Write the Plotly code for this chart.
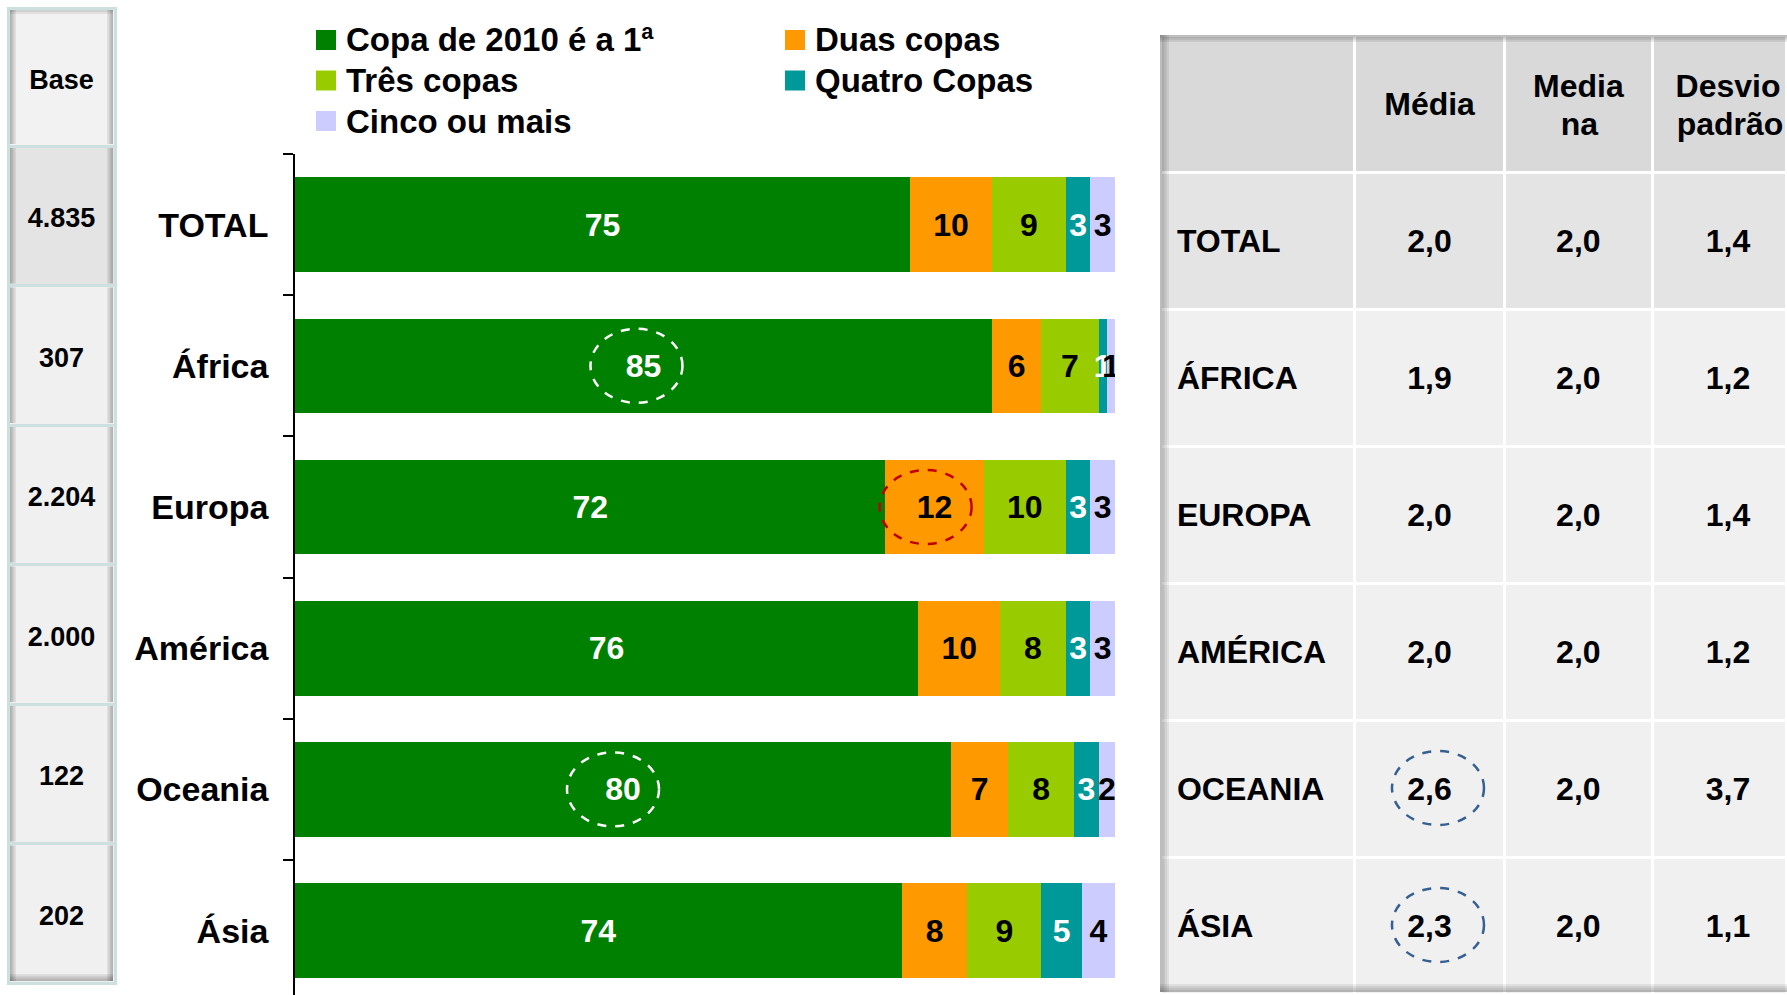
import plotly.graph_objects as go

# dados
regions = ["TOTAL", "África", "Europa", "América", "Oceania", "Ásia"]
series_names = ["Copa de 2010 é a 1ª", "Duas copas", "Três copas", "Quatro Copas", "Cinco ou mais"]
copa_2010 = [75, 85, 72, 76, 80, 74]
duas_copas = [10, 6, 12, 10, 7, 8]
tres_copas = [9, 7, 10, 8, 8, 9]
quatro_copas = [3, 1, 3, 3, 3, 5]
cinco_ou_mais = [3, 1, 3, 3, 2, 4]
series_values = [copa_2010, duas_copas, tres_copas, quatro_copas, cinco_ou_mais]

base_header = "Base"
bases = ["4.835", "307", "2.204", "2.000", "122", "202"]

table_rows = ["TOTAL", "ÁFRICA", "EUROPA", "AMÉRICA", "OCEANIA", "ÁSIA"]
table_header = ["", "Média", "Media<br>na", "Desvio<br>padrão"]
media = ["2,0", "1,9", "2,0", "2,0", "2,6", "2,3"]
media_na = ["2,0", "2,0", "2,0", "2,0", "2,0", "2,0"]
desvio = ["1,4", "1,2", "1,4", "1,2", "3,7", "1,1"]

colors = ["#008000", "#FF9900", "#99CC00", "#009999", "#CCCCFF"]
text_colors = ["white", "black", "black", "white", "black"]

W, H = 1787, 995
FONT = "Liberation Sans, Arial, sans-serif"


def px(x):
    return x / W


def py(y):
    return 1 - y / H


def nb(size, n=1):
    # espaços usados para centrar o texto na célula
    if n == 0:
        return ""
    return "<span style='font-size:%dpx'>%s</span>" % (size, "&nbsp;" * n)


def one_line(text, pad, left=False, extra=0):
    if not text:
        return ""
    lead = "&nbsp;" if left else nb(32, extra) + nb(pad)
    return lead + "<b>" + text + "</b>" + nb(pad) + "<br>"


def two_lines(text, size, pad, n2, extra=0):
    a, b = text.split("<br>")
    sp = "<span style='font-size:%dpx'><b>%s</b></span>"
    return (nb(32, extra) + nb(pad) + sp % (size, a) + nb(pad) + "<br>"
            + nb(32, extra + n2) + sp % (size, b))


fig = go.Figure()

for name, vals, color, tcolor in zip(series_names, series_values, colors, text_colors):
    fig.add_trace(go.Bar(
        y=regions, x=vals, name=name, orientation="h",
        marker=dict(color=color, line=dict(width=0)),
        text=vals, textposition="inside", insidetextanchor="middle", textangle=0,
        textfont=dict(family=FONT, size=32, color=tcolor, weight="bold"),
        showlegend=False, hoverinfo="skip",
    ))

# coluna Base
row_fill = ["#e4e4e4"] + ["#f0f0f0"] * 5
fig.add_trace(go.Table(
    domain=dict(x=[px(8), px(115)], y=[0, py(8)]),
    header=dict(values=[one_line(base_header, 81)], height=138, fill_color="#f2f2f2",
                line=dict(color="#cde0e0", width=3), align="center",
                font=dict(family=FONT, size=27, color="black")),
    cells=dict(values=[[one_line(b, 81) for b in bases]], height=139.5,
               fill_color=[row_fill], line=dict(color="#cde0e0", width=3), align="center",
               font=dict(family=FONT, size=27, color="black")),
))

# tabela de médias
cols = [table_rows, media, media_na, desvio]
head = [one_line(table_header[0], 80), one_line(table_header[1], 80),
        two_lines(table_header[2], 32, 60, 5), two_lines(table_header[3], 32, 60, 2, extra=2)]
cell_vals = [[one_line(v, 80, left=(j == 0), extra=(2 if j == 3 else 0)) for v in c]
             for j, c in enumerate(cols)]
fig.add_trace(go.Table(
    domain=dict(x=[px(1160), 1], y=[0, py(35)]),
    columnwidth=[195, 150, 148, 134],
    header=dict(values=head, height=137, fill_color="#d9d9d9",
                line=dict(color="white", width=3), align="center",
                font=dict(family=FONT, size=[32, 32, 28.9, 28.9], color="black")),
    cells=dict(values=cell_vals, height=137, fill_color=[row_fill] * 4,
               line=dict(color="white", width=3),
               align=["left", "center", "center", "center"],
               font=dict(family=FONT, size=32, color="black")),
))


# sombras das tabelas
def shade(x0, y0, x1, y1, side, depth=8, steps=4, alpha=0.07):
    for k in range(1, steps + 1):
        d = depth * k / steps
        if side == "left":
            box = (x0, y0, x0 + d, y1)
        elif side == "right":
            box = (x1 - d, y0, x1, y1)
        elif side == "top":
            box = (x0, y0, x1, y0 + d)
        else:
            box = (x0, y1 - d, x1, y1)
        fig.add_shape(type="rect", xref="paper", yref="paper", layer="above",
                      x0=px(box[0]), x1=px(box[2]), y0=py(box[1]), y1=py(box[3]),
                      fillcolor="black", opacity=alpha, line=dict(width=0))


base_edges = [8, 146] + [146 + 139.5 * (i + 1) for i in range(len(bases))]
for i in range(len(base_edges) - 1):
    y0, y1 = base_edges[i] + 2, base_edges[i + 1] - 2
    shade(10, y0, 113, y1, "left", depth=6)
    shade(10, y0, 113, y1, "right", depth=6)
shade(10, base_edges[-1] - 40, 113, base_edges[-1] - 2, "bottom", depth=7)
shade(10, 10, 113, 60, "top", depth=4, steps=2)

shade(1160, 35, 1787, 992, "left", depth=9)
shade(1160, 35, 1787, 170, "top", depth=7)
shade(1160, 900, 1787, 992, "bottom", depth=8)

# legenda
for i, name in enumerate(series_names):
    col, row = i % 2, i // 2
    x0 = [316, 785][col]
    yc = 40 + row * 40.5
    fig.add_shape(type="rect", xref="paper", yref="paper",
                  x0=px(x0), x1=px(x0 + 20), y0=py(yc - 10), y1=py(yc + 10),
                  fillcolor=colors[i], line=dict(width=0))
    fig.add_annotation(xref="paper", yref="paper", x=px(x0 + 28), y=py(yc),
                       xanchor="left", yanchor="middle", showarrow=False,
                       text="<b>" + name + "</b>", font=dict(family=FONT, size=33, color="black"))


# destaques
def ellipse(xv, yv, color, dx=-7):
    fig.add_shape(type="circle", xref="x", yref="y", xsizemode="pixel", ysizemode="pixel",
                  xanchor=xv, yanchor=yv, x0=dx - 46, x1=dx + 46, y0=-37, y1=37,
                  line=dict(color=color, width=2.5, dash="dash"))


ellipse(copa_2010[1] / 2, regions[1], "white")
ellipse(copa_2010[4] / 2, regions[4], "white", dx=-10)
ellipse(copa_2010[2] + duas_copas[2] / 2, regions[2], "#C00000", dx=-9)
for yc in [788, 925]:
    fig.add_shape(type="circle", xref="paper", yref="paper",
                  x0=px(1438 - 46), x1=px(1438 + 46), y0=py(yc - 37), y1=py(yc + 37),
                  line=dict(color="#366092", width=2.5, dash="dash"))

fig.update_layout(
    width=W, height=H, margin=dict(l=0, r=0, t=0, b=0),
    barmode="stack", bargap=0.33,
    uniformtext=dict(minsize=32, mode="show"),
    plot_bgcolor="white", paper_bgcolor="white",
    xaxis=dict(domain=[px(295), px(1115)], range=[0, 100], visible=False),
    yaxis=dict(domain=[0, py(154)], type="category", categoryorder="array", categoryarray=regions,
               range=[5.456, -0.5], showline=True, linecolor="black", linewidth=1.5,
               ticks="outside", tickson="boundaries", ticklen=10, tickcolor="black", tickwidth=1.5,
               ticklabelstandoff=18, showgrid=False,
               tickfont=dict(family=FONT, size=34, color="black", weight="bold")),
)

fig.write_html("out.html", post_script="document.body.style.margin='0';",
               config=dict(displayModeBar=False))
